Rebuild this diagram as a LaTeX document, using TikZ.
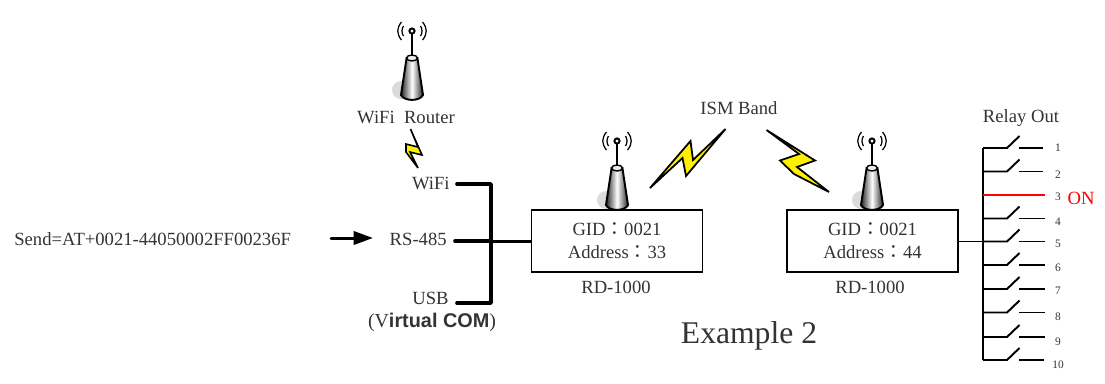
\documentclass[tikz,border=0pt]{standalone}
\usepackage{fontspec}
\setmainfont{Liberation Serif}
\setsansfont{Liberation Sans}
\newfontfamily\cjk{Noto Sans CJK TC}
\usepackage{xcolor}
\usetikzlibrary{arrows.meta}
\definecolor{labelgray}{gray}{0.2}
\definecolor{boltyellow}{RGB}{255,240,0}
\newcommand{\colonfw}{{\cjk：}}
\tikzset{
  label text/.style={font=\fontsize{10.6}{12}\selectfont,text=labelgray,inner sep=0pt},
  relay num/.style={font=\fontsize{6.5}{8}\selectfont,text=labelgray,inner sep=0pt},
  device box/.style={draw=black,line width=1.1pt,minimum width=3.42cm,minimum height=1.24cm,
    align=center,font=\fontsize{10.6}{13}\selectfont,text=labelgray,inner sep=0pt},
  bus/.style={line width=2.1pt,line cap=round,line join=round},
  relay wire/.style={line width=1.1pt},
  bolt/.style={fill=boltyellow,draw=black,line width=1pt,line join=miter,miter limit=6},
  antenna/.pic={
    \fill[black!14] (-11,59) circle (9);
    \draw[line width=0.7pt] (-8.5,-5) .. controls (-10.5,-2) and (-10.5,2) .. (-8.5,5);
    \draw[line width=0.7pt] (8.5,-5) .. controls (10.5,-2) and (10.5,2) .. (8.5,5);
    \draw[line width=0.7pt] (-10.5,-9) .. controls (-15.5,-3) and (-15.5,3) .. (-10.5,9);
    \draw[line width=0.7pt] (10.5,-9) .. controls (15.5,-3) and (15.5,3) .. (10.5,9);
    \draw[line width=1.2pt] (0,3) -- (0,25);
    \draw[line width=1.1pt,fill=white] (0,0) circle (2.6);
    \draw[line width=1.1pt,left color=black!85,right color=black!85,middle color=white]
      (-5.4,27) -- (-11,64) .. controls (-8,70.5) and (8,70.5) .. (11,64) -- (5.4,27) -- cycle;
    \draw[line width=0.8pt,fill=black!8] (0,27) ellipse (5.4 and 3);
  }
}
\begin{document}
\begin{tikzpicture}[x=0.02cm,y=-0.02cm]
  \useasboundingbox (0,0) rectangle (1105,383);
  % antennas
  \pic at (412,31) {antenna};
  \pic at (617,141) {antenna};
  \pic at (872,141) {antenna};
  % boxes
  \node[device box] (box1) at (617,241) {GID\colonfw 0021\\Address\colonfw 33};
  \node[device box] (box2) at (872.5,241) {GID\colonfw 0021\\Address\colonfw 44};
  \node[label text] (model1) at (616,287) {RD-1000};
  \node[label text] (model2) at (870,287) {RD-1000};
  % left side labels
  \node[label text,anchor=west] (send) at (14,239) {Send=AT+0021-44050002FF00236F};
  \node[label text] (router) at (406,117) {WiFi\ \ Router};
  \node[label text,anchor=east] (wifi) at (450,183) {WiFi};
  \node[label text,anchor=east] (rs) at (447,239) {RS-485};
  \node[label text,anchor=east] (usb) at (449,298) {USB};
  \node[label text,font=\fontsize{11.3}{14}\selectfont] (vcom) at (432,322) {(V{\sffamily\bfseries irtual COM})};
  \node[label text] (ism) at (739,108) {ISM Band};
  \node[label text] (relayout) at (1021,118) {Relay Out};
  \node[font=\fontsize{18}{20}\selectfont,text=labelgray,inner sep=0pt] (example) at (749,336) {Example 2};
  % bolts
  \draw[bolt,line width=0.9pt] (410.5,129) -- (422,155) -- (410,152) -- (418,168) -- (406,152) -- (406,144) -- (418,147) -- cycle;
  \draw[bolt] (650,188) -- (690.5,141) -- (693,160) -- (725.5,129) -- (686,176) -- (682.5,158) -- cycle;
  \draw[bolt] (766.5,130) -- (815,160.5) -- (797,167) -- (829,192) -- (794,174) -- (780,160.5) -- (799,154) -- cycle;
  % interfaces
  \coordinate (wifi end) at (457,184);
  \coordinate (rs end) at (455,241);
  \coordinate (usb end) at (457,303);
  \coordinate (bus top) at (491,184);
  \coordinate (bus bot) at (491,303);
  \coordinate (bus mid) at (491,241);
  \draw[bus] (wifi end) -- (bus top) -- (bus bot) -- (usb end);
  \draw[bus] (rs end) -- (bus mid);
  \draw[line width=1.7pt] (bus mid) -- (box1.west);
  \coordinate (arrow start) at (331,238);
  \coordinate (arrow end) at (373,238);
  \draw[line width=1.7pt,line cap=round,-{Triangle[length=11pt,width=7.5pt]}] (arrow start) -- (arrow end);
  % relays
  \coordinate (relay top) at (983,148);
  \coordinate (relay bot) at (983,360);
  \coordinate (relay in) at (983,241.5);
  \draw[relay wire,line width=1.3pt] (relay top) -- (relay bot);
  \draw[relay wire] (box2.east |- relay in) -- (relay in);
  \foreach \n/\y/\ty/\xe in {1/148/148/1043,2/171.5/174.5/1043,4/218.5/222/1045,5/241.5/244/1045,6/265/268/1045,7/289/291/1045,8/312.5/317/1045,9/337/342/1045,10/360/365/1044}{
    \coordinate (a\n) at (983,\y);
    \coordinate (b\n) at (1007,\y);
    \coordinate (c\n) at (1019.5,\y-12);
    \coordinate (d\n) at (1019,\y);
    \coordinate (e\n) at (\xe,\y);
    \draw[relay wire] (a\n) -- (b\n) -- (c\n);
    \draw[relay wire] (d\n) -- (e\n);
    \node[relay num] (num\n) at (1058,\ty) {\n};
  }
  \coordinate (a3) at (983,195);
  \coordinate (d3) at (1019,195);
  \coordinate (e3) at (1045,195);
  \draw[red,line width=0.7pt] (a3) -- (d3);
  \draw[red,line width=1.1pt] (d3) -- (e3);
  \node[relay num] (num3) at (1058,197) {3};
  \node[font=\fontsize{10.6}{12}\selectfont,text=red,inner sep=0pt] (on) at (1081,198) {ON};
\end{tikzpicture}
\end{document}
